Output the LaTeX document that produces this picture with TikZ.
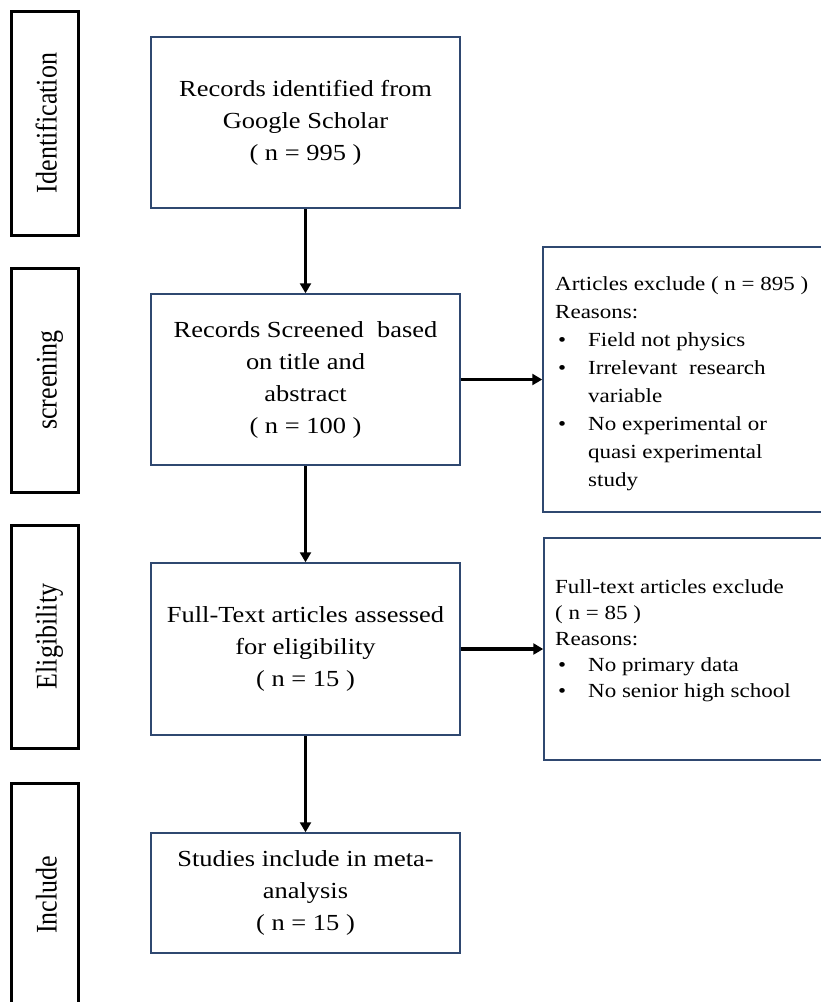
\documentclass[tikz,border=0pt]{standalone}
\usepackage{fontspec}
\setmainfont{Liberation Serif}[FakeStretch=1.15]
\newfontfamily\lblfont{Liberation Serif}
\usetikzlibrary{arrows.meta,calc}
\definecolor{boxblue}{RGB}{47,72,112}
\newcommand\exbul{\makebox[33pt][l]{\hspace{3pt}•}}
\newcommand\exind{\hspace*{33pt}}
\begin{document}
\begin{tikzpicture}[x=1pt,y=-1pt,
  mainbox/.style={draw=boxblue, line width=1.5pt, minimum width=309pt, align=center, inner sep=0pt, font=\fontsize{23}{32}\selectfont},
  exbox/.style={draw=boxblue, line width=1.5pt, inner sep=0pt},
  extext/.style={anchor=north west, align=left, inner sep=0pt},
  phasebar/.style={draw=black, line width=3pt, minimum width=67pt, inner sep=0pt},
  phaselbl/.style={rotate=90, anchor=base, inner sep=0pt, font=\lblfont\fontsize{26}{30}\selectfont},
  flow/.style={line width=3.3pt, -{Triangle[length=10pt,width=11pt]}}
]
\useasboundingbox (0,0) rectangle (820,1002);
\fill[white] (0,0) rectangle (820,1002);

% phase bars
\node[phasebar, minimum height=224pt] (bar1) at (45,123) {};
\node[phasebar, minimum height=224pt] (bar2) at (45,380) {};
\node[phasebar, minimum height=223pt] (bar3) at (45,636.5) {};
\node[phasebar, minimum height=224pt] (bar4) at (45,895) {};
\node[phaselbl] (lbl1) at (56.5,123) {\scalebox{1}[1.15]{Identification}};
\node[phaselbl] (lbl2) at (56.5,380) {\scalebox{1}[1.15]{screening}};
\node[phaselbl] (lbl3) at (56.5,636.5) {\scalebox{1}[1.15]{Eligibility}};
\node[phaselbl] (lbl4) at (56.5,895) {\scalebox{1}[1.15]{Include}};

% main flow
\node[mainbox, minimum height=171pt] (b1) at (305.5,122.5) {Records identified from\\Google Scholar\\( n = 995 )};
\node[mainbox, minimum height=171pt] (b2) at (305.5,379.5) {Records Screened\ \ based\\on title and\\abstract\\( n = 100 )};
\node[mainbox, minimum height=172pt] (b3) at (305.5,649) {Full-Text articles assessed\\for eligibility\\( n = 15 )};
\node[mainbox, minimum height=120pt] (b4) at (305.5,893) {Studies include in meta-\\analysis\\( n = 15 )};

% exclusion boxes
\node[exbox, minimum width=287pt, minimum height=265pt] (e1) at (686.5,379.5) {};
\node[extext, font=\fontsize{20}{28}\selectfont] (e1t) at (555,276)
  {Articles exclude ( n = 895 )\\Reasons:\\\exbul Field not physics\\\exbul Irrelevant\ \ research\\\exind variable\\\exbul No experimental or\\\exind quasi experimental\\\exind study};
\node[exbox, minimum width=286pt, minimum height=222pt] (e2) at (687,649) {};
\node[extext, font=\fontsize{20}{26}\selectfont] (e2t) at (555,579)
  {Full-text\ articles\ exclude\\( n = 85 )\\Reasons:\\\exbul No primary data\\\exbul No senior high school};

% connectors
\draw[flow] (b1) -- (b2);
\draw[flow] (b2) -- (b3);
\draw[flow] (b3) -- (b4);
\draw[flow] (b2.east) -- (e1.west);
\draw[flow] (b3.east) -- (e2.west);
\end{tikzpicture}
\end{document}
